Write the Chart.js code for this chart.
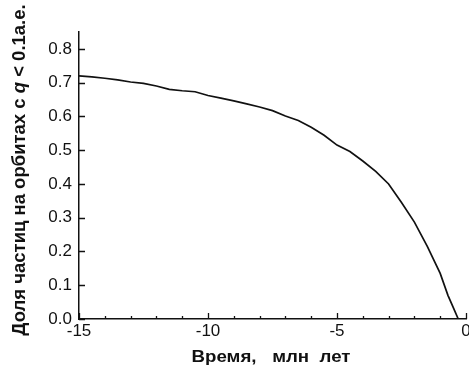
<!DOCTYPE html>
<html>
<head>
<meta charset="utf-8">
<script src="https://cdn.jsdelivr.net/npm/chart.js@4"></script>
<style>
  html, body { margin: 0; padding: 0; background: #fff; }
  canvas { display: block; }
</style>
</head>
<body>
<canvas id="myChart" width="469" height="376"></canvas>
<script>
// time, Myr (before present)
var times = [-15, -14.5, -14, -13.5, -13, -12.5, -12, -11.5, -11, -10.5, -10,
  -9.5, -9, -8.5, -8, -7.5, -7, -6.5, -6, -5.5, -5, -4.5, -4, -3.5, -3,
  -2.5, -2, -1.5, -1, -0.7, -0.5, -0.3];
// fraction of particles on orbits with q < 0.1 AU
var fractions = [0.720, 0.717, 0.713, 0.708, 0.702, 0.698, 0.690, 0.680, 0.676, 0.673, 0.662,
  0.654, 0.646, 0.637, 0.628, 0.617, 0.601, 0.588, 0.568, 0.544, 0.515,
  0.496, 0.468, 0.437, 0.400, 0.345, 0.287, 0.215, 0.135, 0.070, 0.035, 0.0];

var xTicks = [-15, -10, -5, 0];
var yTicks = [0, 0.1, 0.2, 0.3, 0.4, 0.5, 0.6, 0.7, 0.8];

var xTitle = "Время,   млн  лет";
var yTitleParts = [
  { text: "Доля частиц на орбитах с ", italic: false },
  { text: "q", italic: true },
  { text: " < 0.1а.е.", italic: false }
];

var FONT = "'Liberation Sans', Arial, sans-serif";

// inward ticks + axis titles
var decorations = {
  id: "decorations",
  afterDraw: function (chart) {
    var ctx = chart.ctx;
    var xs = chart.scales.x;
    var ys = chart.scales.y;
    var area = chart.chartArea;
    ctx.save();
    ctx.strokeStyle = "#111";
    ctx.lineWidth = 1.3;
    ctx.beginPath();
    for (var t = -15; t <= 0; t++) {
      var px = Math.round(xs.getPixelForValue(t)) + 0.5;
      var len = (t % 5 === 0) ? 6 : 3;
      ctx.moveTo(px, area.bottom);
      ctx.lineTo(px, area.bottom - len);
    }
    yTicks.forEach(function (v) {
      var py = Math.round(ys.getPixelForValue(v)) + 0.5;
      ctx.moveTo(area.left, py);
      ctx.lineTo(area.left + 6, py);
    });
    ctx.stroke();

    ctx.fillStyle = "#111";
    ctx.textBaseline = "alphabetic";

    // x title, slightly wide like the source scan
    ctx.save();
    ctx.font = "bold 17px " + FONT;
    ctx.textAlign = "center";
    ctx.translate(271, 362);
    ctx.scale(1.1, 1);
    ctx.fillText(xTitle, 0, 0);
    ctx.restore();

    // rotated y title with italic q
    var widths = yTitleParts.map(function (p) {
      ctx.font = (p.italic ? "italic " : "") + "bold 18.5px " + FONT;
      return ctx.measureText(p.text).width;
    });
    var total = widths.reduce(function (a, b) { return a + b; }, 0);
    ctx.translate(25, 170);
    ctx.rotate(-Math.PI / 2);
    ctx.textAlign = "left";
    var pos = -total / 2;
    yTitleParts.forEach(function (p, i) {
      ctx.font = (p.italic ? "italic " : "") + "bold 18.5px " + FONT;
      ctx.fillText(p.text, pos, 0);
      pos += widths[i];
    });
    ctx.restore();
  }
};

var points = times.map(function (t, i) { return { x: t, y: fractions[i] }; });

var ctx = document.getElementById("myChart").getContext("2d");
var chart = new Chart(ctx, {
  type: "line",
  data: {
    datasets: [
      {
        data: points,
        borderColor: "#111",
        borderWidth: 1.7,
        pointRadius: 0,
        fill: false,
        tension: 0
      }
    ]
  },
  options: {
    responsive: false,
    animation: false,
    layout: { padding: { top: 32, right: 3, left: 0, bottom: 0 } },
    plugins: {
      legend: { display: false },
      tooltip: { enabled: false }
    },
    scales: {
      x: {
        type: "linear",
        min: -15,
        max: 0,
        afterBuildTicks: function (scale) {
          scale.ticks = xTicks.map(function (v) { return { value: v }; });
        },
        afterFit: function (scale) {
          scale.height = 57;
          scale.paddingLeft = 0;
          scale.paddingRight = 0;
        },
        ticks: {
          color: "#111",
          padding: 2,
          maxRotation: 0,
          autoSkip: false,
          font: { family: FONT, size: 17 },
          callback: function (v) { return String(v); }
        },
        grid: { drawOnChartArea: false, drawTicks: false },
        border: { color: "#111", width: 1.5 }
      },
      y: {
        min: 0,
        max: 0.85,
        afterBuildTicks: function (scale) {
          scale.ticks = yTicks.map(function (v) { return { value: v }; });
        },
        afterFit: function (scale) {
          scale.width = 79;
          scale.paddingTop = 0;
          scale.paddingBottom = 0;
        },
        ticks: {
          color: "#111",
          padding: 7,
          font: { family: FONT, size: 17 },
          callback: function (v) { return v.toFixed(1); }
        },
        grid: { drawOnChartArea: false, drawTicks: false },
        border: { color: "#111", width: 1.5 }
      }
    }
  },
  plugins: [decorations]
});
</script>
</body>
</html>
